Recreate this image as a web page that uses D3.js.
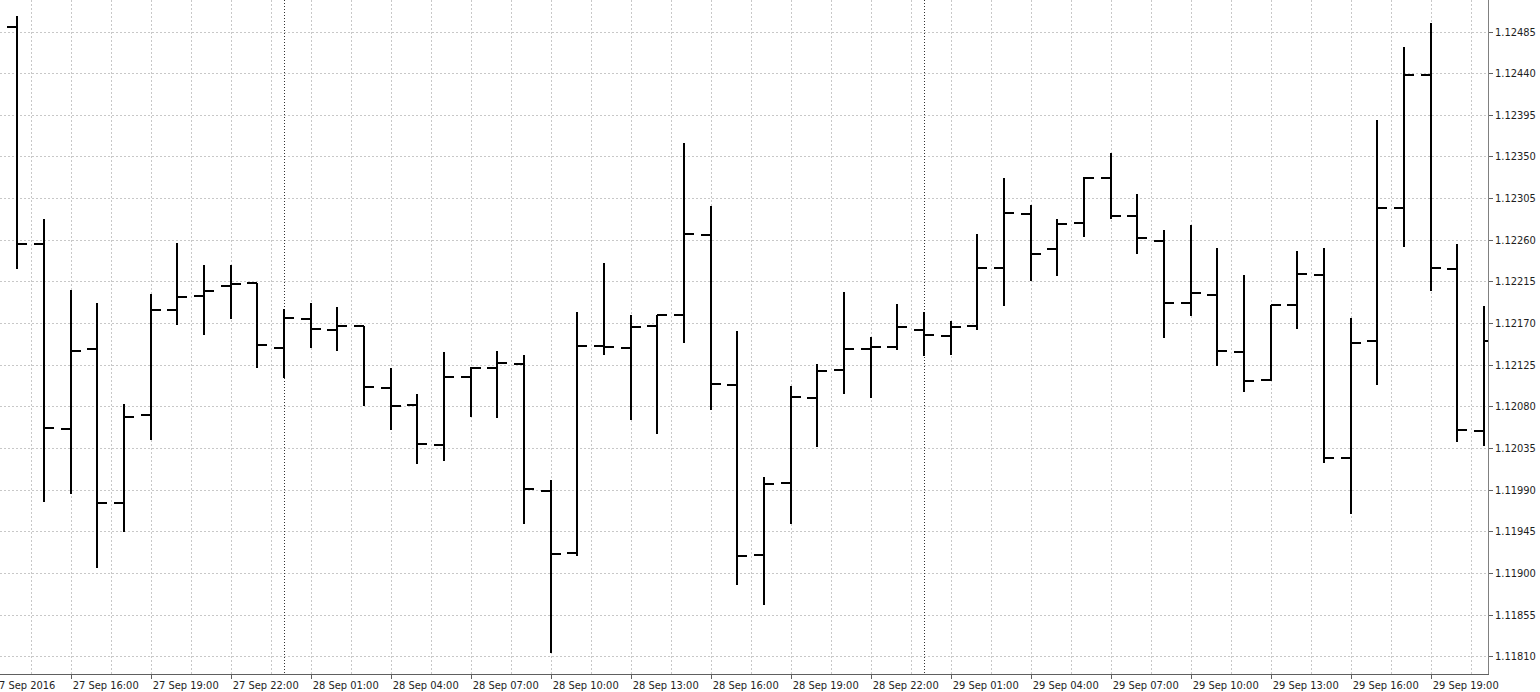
<!DOCTYPE html>
<html>
<head>
<meta charset="utf-8">
<script src="https://cdnjs.cloudflare.com/ajax/libs/d3/7.8.5/d3.min.js"></script>
<style>
  html, body { margin: 0; padding: 0; background: #ffffff; overflow: hidden; }
  svg { display: block; }
  text { font-family: "DejaVu Sans Condensed", Tahoma, "DejaVu Sans", sans-serif; font-size: 11px; fill: #1e1e1e; }
</style>
</head>
<body>
<svg id="chart" width="1540" height="692"></svg>
<script>
// ---- Data (EURUSD H1, 27–29 Sep 2016) ----
const times = [
  "2016-09-27 14:00","2016-09-27 15:00","2016-09-27 16:00","2016-09-27 17:00","2016-09-27 18:00",
  "2016-09-27 19:00","2016-09-27 20:00","2016-09-27 21:00","2016-09-27 22:00","2016-09-27 23:00",
  "2016-09-28 00:00","2016-09-28 01:00","2016-09-28 02:00","2016-09-28 03:00","2016-09-28 04:00",
  "2016-09-28 05:00","2016-09-28 06:00","2016-09-28 07:00","2016-09-28 08:00","2016-09-28 09:00",
  "2016-09-28 10:00","2016-09-28 11:00","2016-09-28 12:00","2016-09-28 13:00","2016-09-28 14:00",
  "2016-09-28 15:00","2016-09-28 16:00","2016-09-28 17:00","2016-09-28 18:00","2016-09-28 19:00",
  "2016-09-28 20:00","2016-09-28 21:00","2016-09-28 22:00","2016-09-28 23:00","2016-09-29 00:00",
  "2016-09-29 01:00","2016-09-29 02:00","2016-09-29 03:00","2016-09-29 04:00","2016-09-29 05:00",
  "2016-09-29 06:00","2016-09-29 07:00","2016-09-29 08:00","2016-09-29 09:00","2016-09-29 10:00",
  "2016-09-29 11:00","2016-09-29 12:00","2016-09-29 13:00","2016-09-29 14:00","2016-09-29 15:00",
  "2016-09-29 16:00","2016-09-29 17:00","2016-09-29 18:00","2016-09-29 19:00","2016-09-29 20:00",
  "2016-09-29 21:00"
];
const openVals = [
  1.12490,1.12255,1.12056,1.12142,1.11976,1.12071,1.12184,1.12199,1.12210,1.12213,
  1.12143,1.12174,1.12162,1.12167,1.12100,1.12081,1.12038,1.12112,1.12122,1.12126,
  1.11989,1.11922,1.12145,1.12143,1.12167,1.12179,1.12265,1.12103,1.11919,1.11997,
  1.12089,1.12119,1.12142,1.12144,1.12162,1.12156,1.12167,1.12230,1.12288,1.12250,
  1.12278,1.12327,1.12286,1.12259,1.12192,1.12200,1.12139,1.12109,1.12189,1.12222,
  1.12024,1.12151,1.12294,1.12438,1.12228,1.12053
];
const highVals = [
  1.12502,1.12282,1.12206,1.12192,1.12083,1.12201,1.12256,1.12233,1.12233,1.12213,
  1.12185,1.12192,1.12187,1.12167,1.12121,1.12093,1.12139,1.12123,1.12140,1.12135,
  1.12000,1.12182,1.12235,1.12179,1.12179,1.12365,1.12296,1.12161,1.12004,1.12102,
  1.12126,1.12204,1.12155,1.12191,1.12182,1.12172,1.12266,1.12327,1.12298,1.12282,
  1.12328,1.12354,1.12309,1.12271,1.12276,1.12251,1.12222,1.12190,1.12248,1.12251,
  1.12175,1.12389,1.12468,1.12494,1.12255,1.12188
];
const lowVals = [
  1.12230,1.11978,1.11986,1.11907,1.11945,1.12045,1.12169,1.12158,1.12175,1.12123,
  1.12112,1.12144,1.12141,1.12082,1.12056,1.12019,1.12022,1.12070,1.12068,1.11954,
  1.11815,1.11919,1.12137,1.12066,1.12051,1.12150,1.12077,1.11888,1.11867,1.11954,
  1.12037,1.12094,1.12090,1.12142,1.12136,1.12137,1.12164,1.12190,1.12217,1.12222,
  1.12264,1.12284,1.12246,1.12155,1.12179,1.12125,1.12097,1.12109,1.12165,1.12020,
  1.11965,1.12104,1.12253,1.12206,1.12043,1.12038
];
const closeVals = [
  1.12255,1.12057,1.12140,1.11976,1.12069,1.12184,1.12198,1.12205,1.12212,1.12146,
  1.12175,1.12164,1.12167,1.12101,1.12080,1.12039,1.12112,1.12121,1.12127,1.11991,
  1.11921,1.12145,1.12144,1.12166,1.12179,1.12266,1.12104,1.11918,1.11996,1.12090,
  1.12118,1.12142,1.12144,1.12166,1.12157,1.12166,1.12229,1.12289,1.12245,1.12277,
  1.12327,1.12286,1.12262,1.12192,1.12203,1.12140,1.12107,1.12190,1.12223,1.12024,
  1.12149,1.12294,1.12438,1.12229,1.12055,1.12151
];
const yTickValues = [1.11810,1.11855,1.11900,1.11945,1.11990,1.12035,1.12080,1.12125,
  1.12170,1.12215,1.12260,1.12305,1.12350,1.12395,1.12440,1.12485];
const xTickTimes = [
  "2016-09-27 13:00","2016-09-27 16:00","2016-09-27 19:00","2016-09-27 22:00",
  "2016-09-28 01:00","2016-09-28 04:00","2016-09-28 07:00","2016-09-28 10:00",
  "2016-09-28 13:00","2016-09-28 16:00","2016-09-28 19:00","2016-09-28 22:00",
  "2016-09-29 01:00","2016-09-29 04:00","2016-09-29 07:00","2016-09-29 10:00",
  "2016-09-29 13:00","2016-09-29 16:00","2016-09-29 19:00"
];
const xTickLabels = [
  "27 Sep 2016","27 Sep 16:00","27 Sep 19:00","27 Sep 22:00",
  "28 Sep 01:00","28 Sep 04:00","28 Sep 07:00","28 Sep 10:00",
  "28 Sep 13:00","28 Sep 16:00","28 Sep 19:00","28 Sep 22:00",
  "29 Sep 01:00","29 Sep 04:00","29 Sep 07:00","29 Sep 10:00",
  "29 Sep 13:00","29 Sep 16:00","29 Sep 19:00"
];

// ---- Layout ----
const W = 1540, H = 692;
const plotRight = 1488, plotBottom = 674;
const parse = d3.timeParse("%Y-%m-%d %H:%M");
const bars = times.map((t, i) => ({
  t: parse(t), o: openVals[i], h: highVals[i], l: lowVals[i], c: closeVals[i]
}));
const HOUR = 3600 * 1000;
const t0 = bars[0].t, tN = bars[bars.length - 1].t;

const x = d3.scaleTime()
  .domain([new Date(+t0 - 0.65 * HOUR), new Date(+tN + 0.15 * HOUR)])
  .range([0, plotRight]);
const y = d3.scaleLinear()
  .domain([1.11810, 1.12485])
  .range([656.3, 31.5]);

const svg = d3.select("#chart");
svg.append("rect").attr("width", W).attr("height", H).attr("fill", "#ffffff");

const plot = svg.append("g");
svg.append("clipPath").attr("id", "clip")
  .append("rect").attr("x", 0).attr("y", 0).attr("width", plotRight).attr("height", plotBottom);

// grid: horizontal at y ticks
const grid = plot.append("g").attr("shape-rendering", "crispEdges");
grid.selectAll("line.h").data(yTickValues).join("line")
  .attr("x1", 0).attr("x2", plotRight)
  .attr("y1", d => Math.round(y(d)) + 0.5).attr("y2", d => Math.round(y(d)) + 0.5)
  .attr("stroke", "#c8c8c8").attr("stroke-dasharray", "2,2");
// grid: vertical every 90 minutes from first tick
const gStart = parse(xTickTimes[0]);
const vGrid = d3.timeMinute.every(90).range ? [] : [];
for (let t = +gStart; t <= +x.domain()[1]; t += 90 * 60 * 1000) vGrid.push(new Date(t));
grid.selectAll("line.v").data(vGrid).join("line")
  .attr("x1", d => Math.round(x(d)) + 0.5).attr("x2", d => Math.round(x(d)) + 0.5)
  .attr("y1", 0).attr("y2", plotBottom)
  .attr("stroke", "#c8c8c8").attr("stroke-dasharray", "2,2");

// day separators
const days = d3.timeDay.range(new Date(+t0 + 1), tN);
plot.append("g").attr("shape-rendering", "crispEdges")
  .selectAll("line").data(days).join("line")
  .attr("x1", d => Math.round(x(d)) + 0.5).attr("x2", d => Math.round(x(d)) + 0.5)
  .attr("y1", 0).attr("y2", plotBottom)
  .attr("stroke", "#333333").attr("stroke-dasharray", "1,2");

// OHLC bars
const tick = 10;
const bg = plot.append("g").attr("clip-path", "url(#clip)")
  .attr("stroke", "#000000").attr("stroke-width", 2).attr("shape-rendering", "crispEdges");
const bsel = bg.selectAll("g.bar").data(bars).join("g").attr("class", "bar");
bsel.append("line")
  .attr("x1", d => Math.round(x(d.t))).attr("x2", d => Math.round(x(d.t)))
  .attr("y1", d => Math.round(y(d.h))).attr("y2", d => Math.round(y(d.l)) + 1);
bsel.append("line")
  .attr("x1", d => Math.round(x(d.t)) - tick).attr("x2", d => Math.round(x(d.t)))
  .attr("y1", d => Math.round(y(d.o))).attr("y2", d => Math.round(y(d.o)));
bsel.append("line")
  .attr("x1", d => Math.round(x(d.t))).attr("x2", d => Math.round(x(d.t)) + tick)
  .attr("y1", d => Math.round(y(d.c))).attr("y2", d => Math.round(y(d.c)));

// axes lines
svg.append("line").attr("x1", plotRight + 0.5).attr("x2", plotRight + 0.5)
  .attr("y1", 0).attr("y2", plotBottom + 0.5)
  .attr("stroke", "#808080").attr("shape-rendering", "crispEdges");
svg.append("line").attr("x1", 0).attr("x2", plotRight + 0.5)
  .attr("y1", plotBottom + 0.5).attr("y2", plotBottom + 0.5)
  .attr("stroke", "#606060").attr("shape-rendering", "crispEdges");

// y axis ticks & labels
const ya = svg.append("g");
ya.selectAll("line").data(yTickValues).join("line")
  .attr("x1", plotRight + 1).attr("x2", plotRight + 5)
  .attr("y1", d => Math.round(y(d)) + 0.5).attr("y2", d => Math.round(y(d)) + 0.5)
  .attr("stroke", "#606060").attr("shape-rendering", "crispEdges");
ya.selectAll("text").data(yTickValues).join("text")
  .attr("x", plotRight + 7).attr("y", d => y(d) + 4)
  .text(d => d3.format(".5f")(d));

// x axis ticks & labels
const xt = xTickTimes.map((s, i) => ({ t: parse(s), label: xTickLabels[i] }));
const xa = svg.append("g");
xa.selectAll("line").data(xt).join("line")
  .attr("x1", d => Math.round(x(d.t)) + 0.5).attr("x2", d => Math.round(x(d.t)) + 0.5)
  .attr("y1", plotBottom + 1).attr("y2", plotBottom + 5)
  .attr("stroke", "#606060").attr("shape-rendering", "crispEdges");
xa.selectAll("text").data(xt).join("text")
  .attr("x", d => x(d.t) + 2).attr("y", 689)
  .text(d => d.label);
</script>
</body>
</html>
